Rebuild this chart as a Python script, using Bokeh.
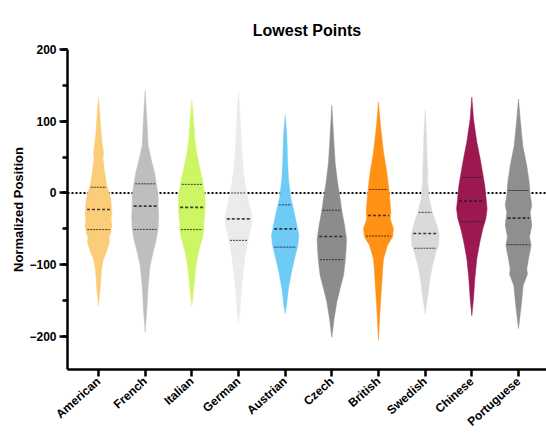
import numpy as np
from bokeh.plotting import figure
from bokeh.models import Range1d, FixedTicker, SingleIntervalTicker, Span, ColumnDataSource
from bokeh.embed import file_html
from bokeh.resources import INLINE

title_text = "Lowest Points"
y_label = "Normalized Position"
categories = ["American", "French", "Italian", "German", "Austrian",
              "Czech", "British", "Swedish", "Chinese", "Portuguese"]
colors = ["#FCCD78", "#BEBEBE", "#CEF564", "#EBEBEB", "#6DCBF5",
          "#8C8C8C", "#FF9114", "#DADADA", "#9B1950", "#8F8F8F"]

# violin outlines: value levels and relative density (half-width)
american_y = [133.6, 110, 85, 65, 57, 48, 30, 10, -8, -22, -29, -36, -45, -57, -61.5, -68.5, -82, -92, -106, -129, -157]
american_d = [0, 1.3, 2.5, 4, 5, 4.5, 6, 8.3, 12.3, 13, 13.5, 12.5, 13.5, 12, 10.5, 11, 8, 5, 3, 2, 0]
french_y = [142.9, 103, 66, 43, 29, 15, -3, -17, -33, -50, -66, -82, -101, -129, -166, -194]
french_d = [0, 1.7, 3, 6.7, 9.3, 11, 13, 13, 13.5, 13, 11, 8, 5, 3, 1.5, 0]
italian_y = [128.9, 103, 75, 57, 38, 15, -3, -20, -36, -43, -50, -64, -82, -106, -133, -157]
italian_d = [0, 1.7, 3, 4.7, 7.5, 11, 13.3, 13.3, 12.7, 11.7, 12.3, 10.3, 6.7, 3.7, 2, 0]
german_y = [143, 103, 57, 29, 6, -13, -31.7, -45, -64, -82, -110, -138, -166, -180]
german_d = [0, 1.7, 3.3, 5, 7.5, 10.3, 13.5, 13, 10, 7.3, 4.7, 2.7, 1.3, 0]
austrian_y = [108, 80, 47.6, 19.8, -8, -26.7, -45, -59, -73, -92, -110, -133, -157, -168]
austrian_d = [0, 1.7, 2.3, 3.3, 5.7, 9, 11.7, 13.7, 12.7, 9.3, 6.3, 3.3, 1.3, 0]
czech_y = [122, 80, 43, 15, -8, -26.7, -45, -64, -78, -96, -115, -133, -152, -175, -201]
czech_d = [0, 1.7, 3.3, 5.7, 8.3, 10.3, 12.7, 14.7, 14.3, 13.3, 11.7, 8.3, 5, 2.3, 0]
british_y = [126.6, 94, 57, 29, 10, -8, -27, -36, -50, -61.5, -73, -92, -110, -138, -170, -205]
british_d = [0, 2, 5, 8.3, 10, 11.3, 12.3, 11.7, 15, 14, 9, 5, 4, 2.7, 1.3, 0]
swedish_y = [115, 80, 43, 29, 20, 10, -8, -27, -45, -59, -73, -82, -101, -120, -143, -168]
swedish_d = [0, 1.3, 2, 2.7, 2.3, 3, 4, 7.3, 11.7, 14, 13.3, 11, 7.3, 4.7, 2.7, 0]
chinese_y = [133.6, 103, 71, 48, 29, 10, -8, -22, -36, -50, -68.5, -91.7, -119.6, -147, -171]
chinese_d = [0, 1.7, 5, 8.3, 10.7, 13, 14.3, 15.3, 14, 11, 8, 5, 3, 1.7, 0]
portuguese_y = [131, 103, 66, 38, 15, -3, -17, -27, -45, -61.5, -73, -92, -106, -113, -129, -157, -189]
portuguese_d = [0, 1.7, 4.3, 8.3, 10.7, 11.7, 13.3, 11.7, 13.3, 11, 12.7, 10, 8.3, 9, 4.7, 2.7, 0]

upper_quartiles = [8, 12.8, 12, 0, -16.5, -24, 4.9, -27, 21.6, 3.5]
medians = [-23, -18.3, -20, -36, -50, -60.6, -31.4, -56.4, -11.3, -35]
lower_quartiles = [-51, -50.8, -51, -66, -75.5, -93, -60, -77, -40, -72]

profiles = [(american_y, american_d), (french_y, french_d), (italian_y, italian_d),
            (german_y, german_d), (austrian_y, austrian_d), (czech_y, czech_d),
            (british_y, british_d), (swedish_y, swedish_d), (chinese_y, chinese_d),
            (portuguese_y, portuguese_d)]

FONT = "Liberation Sans"
SCALE = 1 / 46.7   # density unit -> category units

p = figure(width=546, height=436, output_backend="svg", toolbar_location=None,
           x_range=Range1d(-0.664, 9.6), y_range=Range1d(-246, 200),
           min_border_left=67, min_border_top=49, min_border_bottom=60, min_border_right=0)
p.title.text = title_text
p.title.align = "center"
p.title.text_font = FONT
p.title.text_font_size = "16px"
p.title.text_font_style = "bold"
p.title.text_color = "black"
p.title.standoff = 21
p.outline_line_color = None
p.grid.visible = False
p.background_fill_color = "white"

zero = Span(location=0, dimension="width", line_color="black", line_width=2,
            line_dash="2 2", level="underlay")
p.add_layout(zero)

for i, (ys, ds) in enumerate(profiles):
    ys = np.array(ys, dtype=float)
    ds = np.array(ds, dtype=float) * SCALE
    xs = np.concatenate([i + ds, (i - ds)[::-1]])
    yy = np.concatenate([ys, ys[::-1]])
    p.patch(xs, yy, fill_color=colors[i], line_color=colors[i], line_width=0.5)

def half_widths(vals):
    out = []
    for i, (ys, ds) in enumerate(profiles):
        ys_a = np.array(ys, dtype=float)[::-1]
        ds_a = np.array(ds, dtype=float)[::-1]
        out.append(float(np.interp(vals[i], ys_a, ds_a)) * SCALE * 0.88)
    return out

idx = np.arange(len(categories))
for vals, lw, dash in [(upper_quartiles, 1, "2 1"), (lower_quartiles, 1, "2 1"), (medians, 1.6, "3 2")]:
    hw = np.array(half_widths(vals))
    src = ColumnDataSource(dict(x0=idx - hw, x1=idx + hw, y=vals))
    p.segment(x0="x0", x1="x1", y0="y", y1="y", source=src,
              line_color="#222222", line_width=lw, line_dash=dash, line_alpha=0.85)

xa = p.xaxis[0]
xa.ticker = FixedTicker(ticks=list(range(len(categories))))
xa.major_label_overrides = {i: c for i, c in enumerate(categories)}
xa.major_label_orientation = 0.73
xa.major_label_text_font = FONT
xa.major_label_text_font_style = "bold"
xa.major_label_text_font_size = "12px"
xa.major_label_text_color = "black"
xa.major_label_standoff = 3
xa.axis_line_width = 2.5
xa.axis_line_color = "black"
xa.major_tick_line_width = 2.5
xa.major_tick_out = 7
xa.major_tick_in = 0
xa.minor_tick_line_color = None

ya = p.yaxis[0]
ya.ticker = SingleIntervalTicker(interval=100, num_minor_ticks=2)
ya.axis_label = y_label
ya.axis_label_text_font = FONT
ya.axis_label_text_font_style = "bold"
ya.axis_label_text_font_size = "13px"
ya.axis_label_text_color = "black"
ya.axis_label_standoff = 0
ya.major_label_text_font = FONT
ya.major_label_text_font_style = "bold"
ya.major_label_text_font_size = "12px"
ya.major_label_text_color = "black"
ya.major_label_standoff = 3
ya.axis_line_width = 2.5
ya.axis_line_color = "black"
ya.major_tick_line_width = 2.5
ya.major_tick_out = 8
ya.major_tick_in = 0
ya.minor_tick_line_width = 2.5
ya.minor_tick_out = 5
ya.minor_tick_in = 0

open("out.html", "w").write(file_html(p, INLINE))
